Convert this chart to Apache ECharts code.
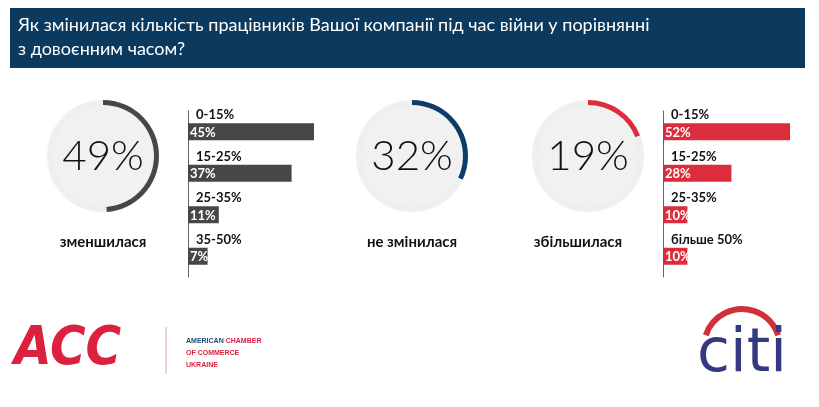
<!DOCTYPE html>
<html><head><meta charset="utf-8">
<script src="https://cdn.jsdelivr.net/npm/echarts@6/dist/echarts.min.js"></script>
<style>html,body{margin:0;padding:0;background:#fff}#c{width:819px;height:407px}</style>
</head><body><div id="c"></div>
<script>
// загальні частки
const shareNames = ['зменшилася', 'не змінилася', 'збільшилася'];
const shareValues = [49, 32, 19];
const shareColors = ['#474747', '#0d3c66', '#dc2d3c'];
// деталізація
const downCats = ['0-15%', '15-25%', '25-35%', '35-50%'];
const downVals = [45, 37, 11, 7];
const upCats = ['0-15%', '15-25%', '25-35%', 'більше 50%'];
const upVals = [52, 28, 10, 10];

const font = 'Lato, "Open Sans", sans-serif';
const chart = echarts.init(document.getElementById('c'));
const centers = [[103, 156], [412, 156], [588, 156]];

let series = [];
shareValues.forEach((v, i) => {
  series.push({
    type: 'pie', center: centers[i], radius: [0, 51], silent: true,
    itemStyle: { color: '#f1f1f1', shadowBlur: 6, shadowColor: 'rgba(0,0,0,0.25)' },
    label: { position: 'center', formatter: v + '%', fontSize: 42, fontWeight: 300, color: '#111', fontFamily: font },
    data: [{ value: 1 }]
  });
  series.push({
    type: 'pie', center: centers[i], radius: [51, 56], silent: true, startAngle: 90, clockwise: true,
    label: { show: false },
    data: [{ value: v, itemStyle: { color: shareColors[i] } },
           { value: 100 - v, itemStyle: { color: '#efefef' } }]
  });
});

function barGrid(idx, cats, vals, color, max) {
  return {
    xAxis: { gridIndex: idx, type: 'value', max: max, show: false },
    yAxis: {
      gridIndex: idx, type: 'category', data: cats, inverse: true,
      axisLine: { lineStyle: { color: '#666' } }, axisTick: { show: false },
      axisLabel: { inside: true, align: 'left', verticalAlign: 'bottom', padding: [0, 0, 10, 0],
        color: '#111', fontWeight: 'bold', fontSize: 13, fontFamily: font }
    },
    series: {
      type: 'bar', xAxisIndex: idx, yAxisIndex: idx, data: vals, barWidth: 17,
      itemStyle: { color: color }, silent: true,
      label: { show: true, position: 'insideLeft', offset: [-3, 1], formatter: '{c}%', color: '#fff',
        fontWeight: 'bold', fontSize: 13, fontFamily: font }
    }
  };
}
const g1 = barGrid(0, downCats, downVals, '#474747', 50);
const g2 = barGrid(1, upCats, upVals, '#dc2d3c', 57.3);
series.push(g1.series, g2.series);

chart.setOption({
  animation: false,
  grid: [
    { left: 188, top: 111, width: 140, height: 166 },
    { left: 663, top: 111, width: 140, height: 166 }
  ],
  xAxis: [g1.xAxis, g2.xAxis],
  yAxis: [g1.yAxis, g2.yAxis],
  series: series,
  graphic: [
    { type: 'rect', shape: { x: 10, y: 8, width: 795, height: 60 }, style: { fill: '#0b3a5e' } },
    { type: 'text', left: 18, top: 13, style: { text: 'Як змінилася кількість працівників Вашої компанії під час війни у порівнянні\nз довоєнним часом?', fill: '#fff', fontSize: 18, lineHeight: 24, fontFamily: font } },
    { type: 'text', x: 103, y: 242, style: { text: shareNames[0], align: 'center', verticalAlign: 'middle', fill: '#111', fontSize: 15, fontWeight: 'bold', fontFamily: font } },
    { type: 'text', x: 412, y: 242, style: { text: shareNames[1], align: 'center', verticalAlign: 'middle', fill: '#111', fontSize: 15, fontWeight: 'bold', fontFamily: font } },
    { type: 'text', x: 578, y: 242, style: { text: shareNames[2], align: 'center', verticalAlign: 'middle', fill: '#111', fontSize: 15, fontWeight: 'bold', fontFamily: font } },
    // логотипи
    { type: 'text', x: 14, y: 350, style: { text: 'ACC', verticalAlign: 'middle', fill: '#dc2040', fontSize: 54, fontWeight: 900, fontStyle: 'italic', fontFamily: '"Liberation Sans Narrow", "DejaVu Sans Condensed", sans-serif' } },
    { type: 'line', shape: { x1: 166, y1: 327, x2: 166, y2: 374 }, style: { stroke: '#e0a0a8', lineWidth: 1 } },
    { type: 'text', x: 186, y: 335, style: { rich: { b: { fill: '#1e4a7a', fontSize: 7, fontWeight: 'bold' }, r: { fill: '#dc2040', fontSize: 7, fontWeight: 'bold' } }, text: '{b|AMERICAN }{r|CHAMBER}\n{r|OF COMMERCE}\n{r|UKRAINE}', lineHeight: 12, fontFamily: font } },
    { type: 'arc', shape: { cx: 742, cy: 347, r: 38, startAngle: Math.PI * 1.1, endAngle: Math.PI * 1.9 }, style: { stroke: '#d0303a', lineWidth: 6, fill: null } },
    { type: 'text', x: 742, y: 355, style: { text: 'citi', align: 'center', verticalAlign: 'middle', fill: '#343a80', fontSize: 60, fontFamily: '"DejaVu Sans", sans-serif' } }
  ]
});
</script></body></html>
